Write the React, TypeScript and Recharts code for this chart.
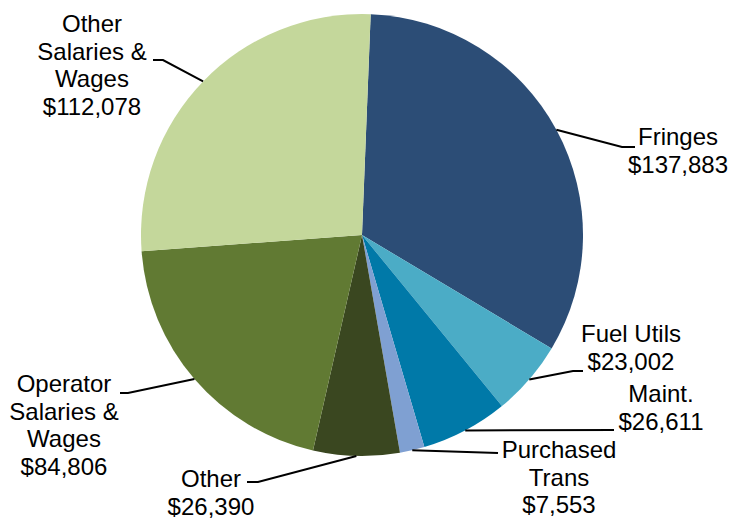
import React from "react";
import { PieChart, Pie, Cell } from "recharts";

const categories = [
  "Fringes",
  "Fuel Utils",
  "Maint.",
  "Purchased\nTrans",
  "Other",
  "Operator\nSalaries &\nWages",
  "Other\nSalaries &\nWages",
];
const costs = [137883, 23002, 26611, 7553, 26390, 84806, 112078];
const colors = ["#2C4D76", "#4BACC6", "#0079A8", "#7FA0D2", "#3A4720", "#617A33", "#C4D79B"];

// label layout (offsets from the pie centre): optional elbow, line end, text centre x / first baseline y
const labelLayout = [
  { elbow: [260, -88], end: [273, -88], text: [316, -90] },
  { elbow: [211, 136], end: [221, 136], text: [269, 107] },
  { elbow: null, end: [252, 195], text: [299, 167] },
  { elbow: null, end: [136, 218], text: [197, 223] },
  { elbow: [-104, 247], end: [-115, 247], text: [-151, 252] },
  { elbow: [-234, 158], end: [-242, 158], text: [-298, 157] },
  { elbow: [-199, -175], end: [-209, -175], text: [-270, -203] },
];

const data = categories.map((name, i) => ({ name, value: costs[i] }));

const RAD = Math.PI / 180;

const renderLabel = (props: any) => {
  const { cx, cy, midAngle, outerRadius, index, name, value } = props;
  const lay = labelLayout[index];
  const sx = cx + outerRadius * Math.cos(-midAngle * RAD);
  const sy = cy + outerRadius * Math.sin(-midAngle * RAD);
  const pts: number[][] = [[sx, sy]];
  if (lay.elbow) pts.push([cx + lay.elbow[0], cy + lay.elbow[1]]);
  pts.push([cx + lay.end[0], cy + lay.end[1]]);
  const lines = String(name).split("\n");
  lines.push("$" + Number(value).toLocaleString("en-US"));
  const tx = cx + lay.text[0];
  const ty = cy + lay.text[1];
  return (
    <g key={`lbl-${index}`}>
      <polyline
        points={pts.map((p) => p.join(",")).join(" ")}
        fill="none"
        stroke="#000"
        strokeWidth={2}
      />
      <text
        x={tx}
        y={ty}
        textAnchor="middle"
        fontFamily="'Liberation Sans', Arial, sans-serif"
        fontSize={24}
        fill="#000"
      >
        {lines.map((l, j) => (
          <tspan key={j} x={tx} dy={j === 0 ? 0 : 27.7}>
            {l}
          </tspan>
        ))}
      </text>
    </g>
  );
};

export default function App() {
  return (
    <div style={{ position: "absolute", left: 0, top: 0, width: 732, height: 520, background: "#fff" }}>
      <PieChart width={732} height={520} margin={{ top: 0, right: 0, bottom: 0, left: 0 }}>
        <Pie
          data={data}
          dataKey="value"
          nameKey="name"
          cx={362}
          cy={235}
          outerRadius={221}
          startAngle={87.75}
          endAngle={-272.25}
          stroke="none"
          label={renderLabel}
          labelLine={false}
          isAnimationActive={false}
        >
          {data.map((d, i) => (
            <Cell key={i} fill={colors[i]} />
          ))}
        </Pie>
      </PieChart>
    </div>
  );
}
